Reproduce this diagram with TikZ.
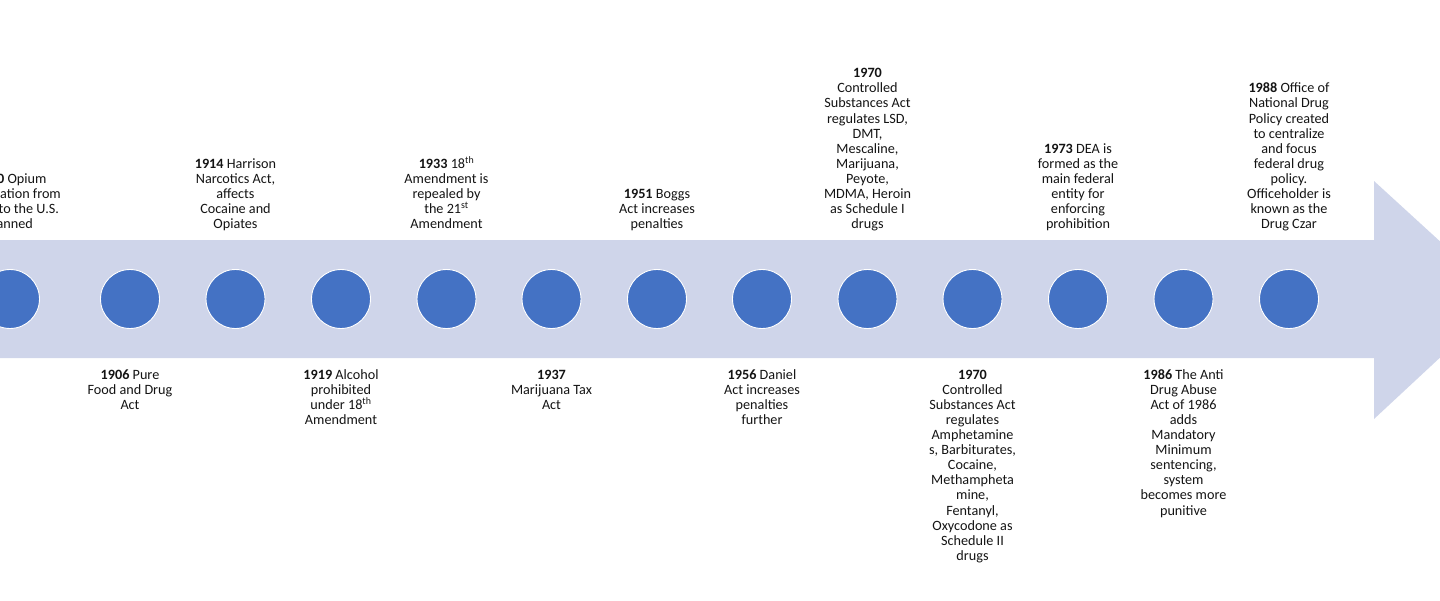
\documentclass[tikz,border=0pt]{standalone}
\usepackage{fontspec}
\setmainfont{Carlito}
\begin{document}
\begin{tikzpicture}[x=1pt,y=-1pt,
  dot/.style={circle,fill=dotcol,draw=white,line width=0.9pt,minimum size=59pt,inner sep=0pt},
  toptxt/.style={anchor=south,align=center,inner sep=0pt,font=\fontsize{14.2}{15.1}\selectfont,text=txtcol},
  bottxt/.style={anchor=north,align=center,inner sep=0pt,font=\fontsize{14.2}{15.1}\selectfont,text=txtcol}]
\definecolor{bandcol}{HTML}{CFD5EA}
\definecolor{dotcol}{HTML}{4472C4}
\definecolor{txtcol}{HTML}{141414}
\useasboundingbox (0,0) rectangle (1440,600);
\clip (0,0) rectangle (1440,600);
% arrow band
\fill[bandcol] (-20,240) -- (1374,240) -- (1374,181) -- (1503,299) -- (1374,419) -- (1374,358) -- (-20,358) -- cycle;
% circles
\foreach \i/\x in {0/10,1/130,2/235.5,3/341,4/446.5,5/551.5,6/657,7/762,8/867.5,9/972.5,10/1078,11/1183.5,12/1289}
  \node[dot] (c\i) at (\x,299) {};
% top texts
\node[toptxt] (t0) at (11,233.5) {\strut\textbf{1880} Opium\\importation from\\China to the U.S.\\banned\strut};
\node[toptxt] (t2) at (235.5,233.5) {\strut\textbf{1914} Harrison\\Narcotics Act,\\affects\\Cocaine and\\Opiates\strut};
\node[toptxt] (t4) at (446.5,233.5) {\strut\textbf{1933} 18\textsuperscript{th}\\Amendment is\\repealed by\\the 21\textsuperscript{st}\\Amendment\strut};
\node[toptxt] (t6) at (657,233.5) {\strut\textbf{1951} Boggs\\Act increases\\penalties\strut};
\node[toptxt] (t8) at (867.5,233.5) {\strut\textbf{1970}\\Controlled\\Substances Act\\regulates LSD,\\DMT,\\Mescaline,\\Marijuana,\\Peyote,\\MDMA, Heroin\\as Schedule I\\drugs\strut};
\node[toptxt] (t10) at (1078,233.5) {\strut\textbf{1973} DEA is\\formed as the\\main federal\\entity for\\enforcing\\prohibition\strut};
\node[toptxt] (t12) at (1289,233.5) {\strut\textbf{1988} Office of\\National Drug\\Policy created\\to centralize\\and focus\\federal drug\\policy.\\Officeholder is\\known as the\\Drug Czar\strut};
% bottom texts
\node[bottxt] (b1) at (130,368.4) {\strut\textbf{1906} Pure\\Food and Drug\\Act};
\node[bottxt] (b3) at (341,368.4) {\strut\textbf{1919} Alcohol\\prohibited\\under 18\textsuperscript{th}\\Amendment};
\node[bottxt] (b5) at (551.5,368.4) {\strut\textbf{1937}\\Marijuana Tax\\Act};
\node[bottxt] (b7) at (762,368.4) {\strut\textbf{1956} Daniel\\Act increases\\penalties\\further};
\node[bottxt] (b9) at (972.5,368.4) {\strut\textbf{1970}\\Controlled\\Substances Act\\regulates\\Amphetamine\\s, Barbiturates,\\Cocaine,\\Methampheta\\mine,\\Fentanyl,\\Oxycodone as\\Schedule II\\drugs};
\node[bottxt] (b11) at (1183.5,368.4) {\strut\textbf{1986} The Anti\\Drug Abuse\\Act of 1986\\adds\\Mandatory\\Minimum\\sentencing,\\system\\becomes more\\punitive};
\end{tikzpicture}
\end{document}
